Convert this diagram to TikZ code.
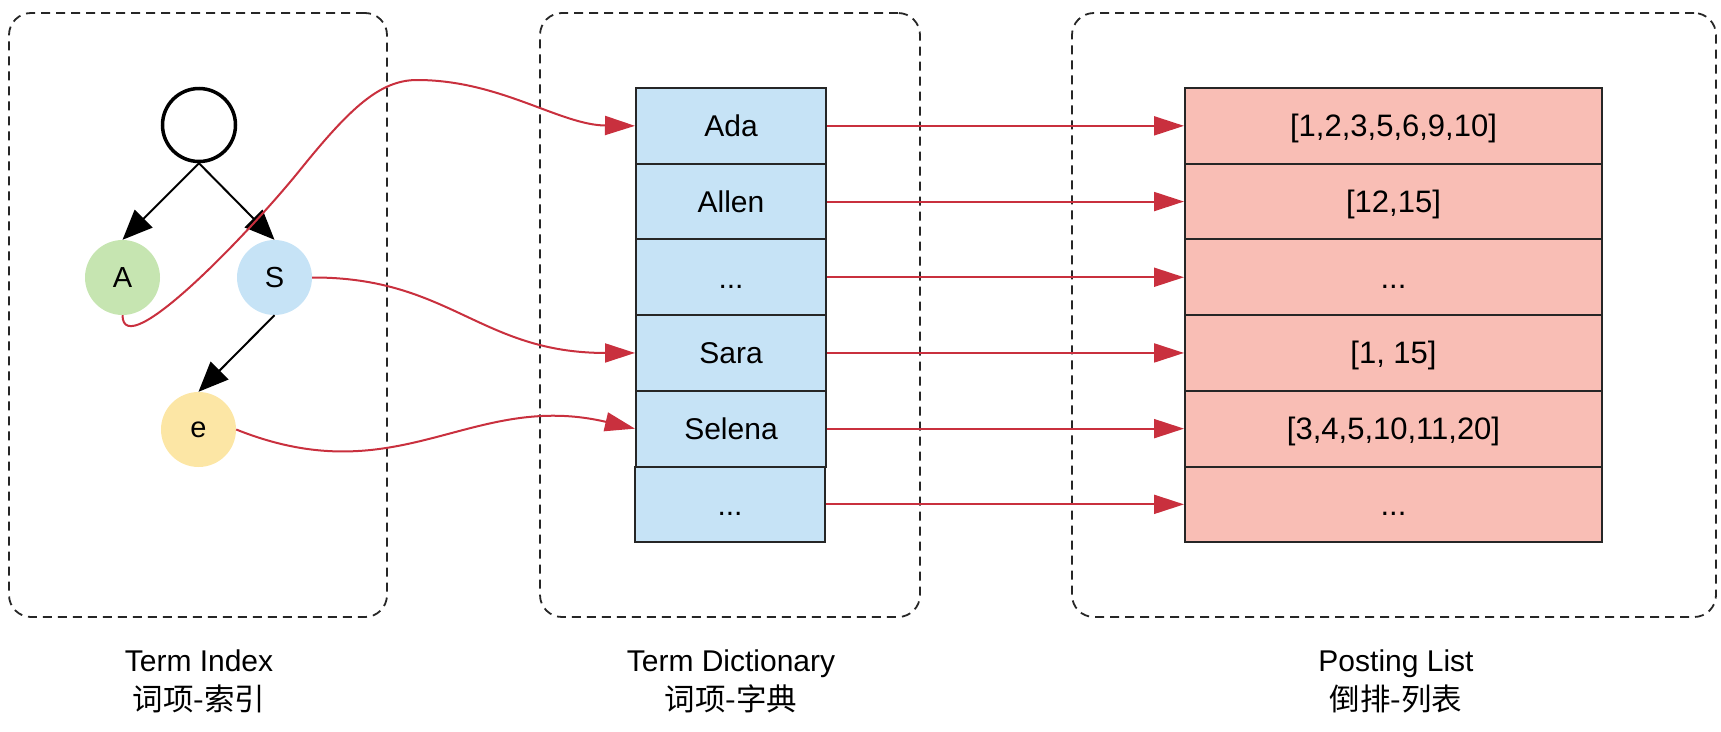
\documentclass[tikz,border=0pt]{standalone}
\usepackage{fontspec}
\setmainfont{Liberation Sans}
\newfontfamily\cjk{Noto Sans CJK SC}
\usetikzlibrary{arrows.meta}
\definecolor{dictblue}{RGB}{198,227,246}
\definecolor{postred}{RGB}{249,190,181}
\definecolor{agreen}{RGB}{198,229,177}
\definecolor{sblue}{RGB}{198,227,246}
\definecolor{eyellow}{RGB}{252,230,165}
\definecolor{linkred}{RGB}{201,48,62}
\begin{document}
\begin{tikzpicture}[x=1pt,y=-1pt,
  grp/.style={draw=black!85, line width=1.8pt, dash pattern=on 9pt off 6pt, rounded corners=22pt, inner sep=0pt},
  cellfont/.style={font=\fontsize{30}{34}\selectfont, text height=21.5pt, text depth=0pt},
  dictcell/.style={cellfont, draw=black!85, line width=2pt, fill=dictblue, minimum width=190pt, minimum height=75.7pt, inner sep=0pt},
  postcell/.style={cellfont, font=\fontsize{31}{35}\selectfont, draw=black!85, line width=2pt, fill=postred, minimum width=417pt, minimum height=75.7pt, inner sep=0pt},
  tnode/.style={circle, minimum size=75pt, inner sep=0pt, font=\fontsize{29}{33}\selectfont},
  tarrow/.style={draw=black, line width=2pt, -{Triangle[length=30pt,width=25pt]}},
  link/.style={draw=linkred, line width=2pt, -{Triangle[length=30pt,width=19pt]}},
  lbl/.style={font=\fontsize{30}{34}\selectfont, anchor=base},
  clbl/.style={font=\cjk\fontsize{30.5}{34}\selectfont, anchor=base}
]
\useasboundingbox (0,0) rectangle (1721,731);

% group boxes
\node[grp, minimum width=378pt, minimum height=604pt] (g1) at (198,315) {};
\node[grp, minimum width=380pt, minimum height=604pt] (g2) at (730,315) {};
\node[grp, minimum width=644pt, minimum height=604pt] (g3) at (1394,315) {};

% tree
\node[tnode, draw=black, line width=3.5pt, minimum size=73pt] (root) at (199,125) {};
\node[tnode, fill=agreen] (A) at (122.5,277.5) {A};
\node[tnode, fill=sblue] (S) at (274.5,277.5) {S};
\node[tnode, fill=eyellow] (e) at (198.5,429.5) {e};
\draw[tarrow] (root.south) -- (A.north);
\draw[tarrow] (root.south) -- (S.north);
\draw[tarrow] (S.south) -- (e.north);

% term dictionary
\node[dictcell] (d1) at (731,125.85) {Ada};
\node[dictcell] (d2) at (731,201.55) {Allen};
\node[dictcell] (d3) at (731,277.25) {...};
\node[dictcell] (d4) at (731,352.95) {Sara};
\node[dictcell] (d5) at (731,428.65) {Selena};
\node[dictcell] (d6) at (730,504.35) {...};

% posting list
\node[postcell] (p1) at (1393.5,125.85) {[1,2,3,5,6,9,10]};
\node[postcell] (p2) at (1393.5,201.55) {[12,15]};
\node[postcell] (p3) at (1393.5,277.25) {...};
\node[postcell] (p4) at (1393.5,352.95) {[1, 15]};
\node[postcell] (p5) at (1393.5,428.65) {[3,4,5,10,11,20]};
\node[postcell] (p6) at (1393.5,504.35) {...};

% dictionary -> posting
\foreach \i in {1,...,6} {
  \draw[link] (d\i.east) -- (p\i.west);
}

% index -> dictionary
\draw[link] (A.south) .. controls (123,365) and (250,232) .. (300,170)
  .. controls (350,108) and (380,80) .. (417,80)
  .. controls (500,80) and (560,125) .. (d1.west);
\draw[link] (S.east) .. controls (450,277) and (480,353) .. (d4.west);
\draw[link] (e.east) .. controls (400,495) and (470,390) .. (d5.west);

% labels
\node[lbl] (t1) at (199,671) {Term Index};
\node[clbl] (c1) at (199,710) {词项-索引};
\node[lbl] (t2) at (731,671) {Term Dictionary};
\node[clbl] (c2) at (731,710) {词项-字典};
\node[lbl] (t3) at (1396,671) {Posting List};
\node[clbl] (c3) at (1396,710) {倒排-列表};
\end{tikzpicture}
\end{document}
